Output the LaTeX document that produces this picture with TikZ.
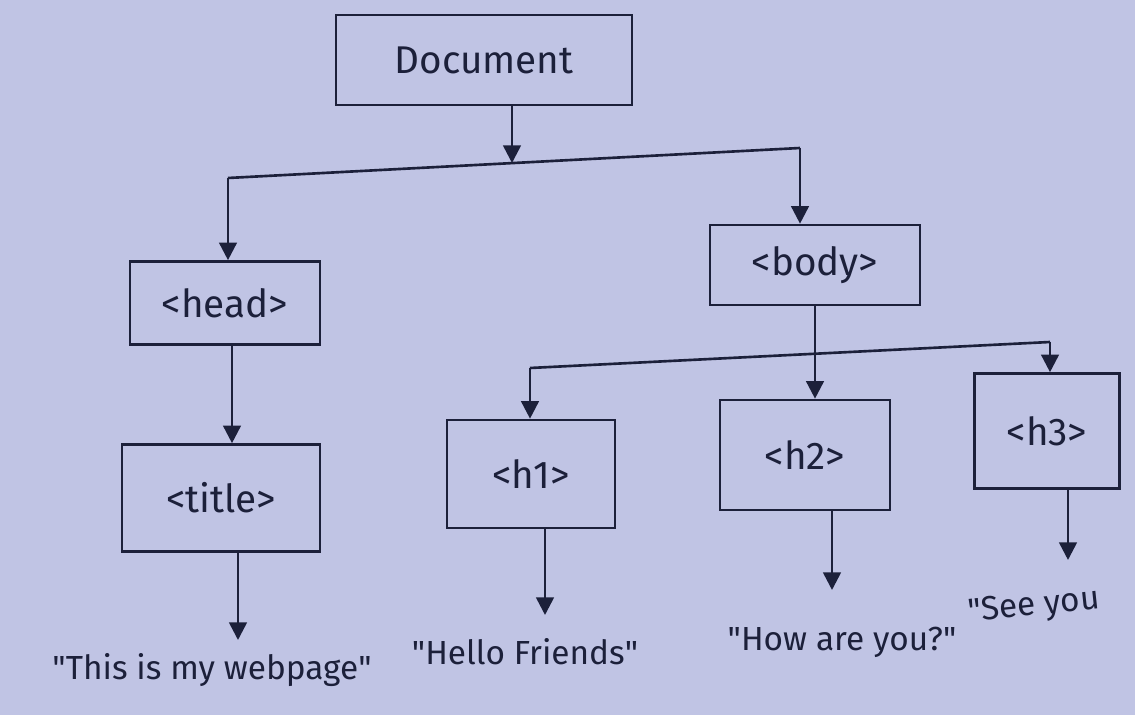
\documentclass[tikz,border=0pt]{standalone}
\usepackage{fontspec}
\setmainfont{Fira Sans}
\usetikzlibrary{arrows.meta}
\definecolor{paper}{RGB}{192,196,228}
\definecolor{ink}{RGB}{28,32,58}
\newcommand{\dq}{\textquotedbl}
\tikzset{
  box/.style={draw=ink, line width=1.5pt, rectangle, inner sep=0pt, text=ink, font=\fontsize{22}{26}\selectfont},
  lbl/.style={text=ink, inner sep=0pt, font=\fontsize{19}{23}\selectfont},
  wire/.style={draw=ink, line width=1.5pt},
  arr/.style={draw=ink, line width=1.5pt, -{Triangle[length=10pt,width=10pt]}}
}
\begin{document}
\begin{tikzpicture}[x=0.02cm, y=-0.02cm]
\useasboundingbox (0,0) rectangle (1135,715);
\fill[paper] (0,0) rectangle (1135,715);

% boxes
\node[box, minimum width=5.92cm, minimum height=1.8cm] (doc) at (484,60) {Document};
\node[box, minimum width=3.8cm, minimum height=1.66cm] (head) at (225,303) {\textless head\textgreater};
\node[box, minimum width=4.2cm, minimum height=1.6cm] (body) at (815,265) {\textless body\textgreater};
\node[box, minimum width=3.96cm, minimum height=2.14cm] (title) at (221,498) {\textless title\textgreater};
\node[box, minimum width=3.36cm, minimum height=2.16cm] (h1) at (531,474) {\textless h1\textgreater};
\node[box, minimum width=3.4cm, minimum height=2.2cm] (h2) at (805,455) {\textless h2\textgreater};
\node[box, minimum width=2.9cm, minimum height=2.3cm] (h3) at (1047,431) {\textless h3\textgreater};

% text leaves
\node[lbl] (t1) at (212,670) {\dq This is my webpage\dq};
\node[lbl] (t2) at (525,652) {\dq Hello Friends\dq};
\node[lbl] (t3) at (842,642) {\dq How are you?\dq};
\node[lbl, anchor=west, rotate=6] (t4) at (968,614) {\dq See you};

% junction coordinates
\coordinate (bl) at (228,178);
\coordinate (br) at (800,148);
\coordinate (bm) at (512,163);
\coordinate (cl) at (530,368);
\coordinate (cr) at (1050,342);
\coordinate (e1) at (238,640);
\coordinate (e2) at (545,615);
\coordinate (e3) at (832,590);
\coordinate (e4) at (1068,560);

% connectors
\draw[arr] (doc.south -| bm) -- (bm);
\draw[wire] (bl) -- (br);
\draw[arr] (bl) -- (head.north -| bl);
\draw[arr] (br) -- (body.north -| br);
\draw[arr] (head.south -| 232,0) -- (title.north -| 232,0);
\draw[arr] (title.south -| e1) -- (e1);

\draw[wire] (cl) -- (cr);
\draw[arr] (body.south) -- (body.south |- h2.north);
\draw[arr] (cl) -- (h1.north -| cl);
\draw[arr] (cr) -- (h3.north -| cr);
\draw[arr] (h1.south -| e2) -- (e2);
\draw[arr] (h2.south -| e3) -- (e3);
\draw[arr] (h3.south -| e4) -- (e4);
\end{tikzpicture}
\end{document}
